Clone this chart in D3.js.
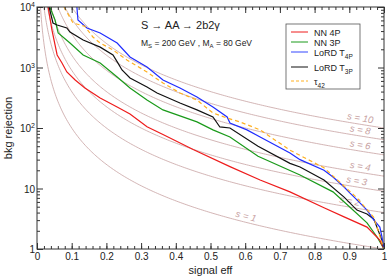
<!DOCTYPE html>
<html><head><meta charset="utf-8">
<script src="https://cdn.jsdelivr.net/npm/d3@7"></script>
<style>body{margin:0;background:#fff}svg{display:block;font-family:"Liberation Sans",Arial,sans-serif}</style>
</head><body><svg id="c" width="387" height="278"></svg>
<script>
// ---- data (signal eff, bkg rejection) ----
const nn4pEff = [0.032,0.043,0.058,0.072,0.086,0.110,0.138,0.182,0.231,0.268,0.317,0.363,0.450,0.556,0.643,0.729,0.827,0.885,0.951,0.988,1.0];
const nn4pRej = [10000,4170,1610,1190,843,621,458,313,222,170,105,78,44,23,13.8,8.8,4.8,3.4,2.3,1.4,1];
const nn3pEff = [0.037,0.052,0.061,0.095,0.133,0.182,0.231,0.268,0.317,0.363,0.461,0.507,0.556,0.637,0.758,0.853,0.902,0.951,0.980,1.0];
const nn3pRej = [10000,6100,3720,2540,1610,1190,697,458,290,199,126,93,71,34,16.7,8.8,4.9,2.7,1.58,1];
const t4pEff = [0.115,0.118,0.144,0.182,0.231,0.268,0.317,0.363,0.412,0.461,0.507,0.548,0.556,0.605,0.643,0.729,0.758,0.827,0.853,0.885,0.902,0.922,0.951,0.971,0.988,0.994,1.0];
const t4pRej = [10000,6100,4500,3720,2540,1490,1020,621,458,325,222,152,121,93,71,38.6,30,20,15.5,10.6,8.4,6.5,4.4,3.0,2.3,1.6,1];
const t3pEff = [0.035,0.046,0.058,0.086,0.095,0.133,0.182,0.219,0.233,0.245,0.268,0.317,0.346,0.412,0.461,0.507,0.527,0.556,0.637,0.729,0.758,0.827,0.885,0.922,0.951,0.971,0.994,1.0];
const t3pRej = [10000,5440,5040,4500,3860,2850,2170,1610,1190,910,670,476,379,259,199,152,104,100,50,26,22.7,13.8,7.2,4.4,3.8,3.1,1.4,1];
const tau42Eff = [0.078,0.104,0.138,0.161,0.182,0.219,0.259,0.317,0.363,0.412,0.461,0.507,0.548,0.585,0.643,0.729,0.827,0.922,0.971,1.0];
const tau42Rej = [10000,5440,4800,3190,2540,1950,1330,843,555,379,290,177,146,126,93,43,22,7.0,3.3,1];
const sLevels = [1,2,3,4,6,8,10];
const xTicks = [0,0.1,0.2,0.3,0.4,0.5,0.6,0.7,0.8,0.9,1];
const yTicks = [1,10,100,1000,10000];
const legendLabels = ["NN 4P","NN 3P","LoRD T4P","LoRD T3P","τ42"];

const svg = d3.select("#c");
const L=37,R=384,T=7,B=249;
const x = d3.scaleLinear().domain([0,1]).range([L,R]);
const y = d3.scaleLog().domain([1,10000]).range([B,T]);
const grey = "#c8a2a2";

svg.append("defs").append("clipPath").attr("id","clip").append("rect")
  .attr("x",L).attr("y",T).attr("width",R-L).attr("height",B-T);

// iso-significance guide curves: rejection = s^2 / eff^2
const gCurves = svg.append("g").attr("clip-path","url(#clip)");
const line = d3.line().x(d=>x(d[0])).y(d=>y(d[1]));
sLevels.forEach(s=>{
  const e0 = s/100;
  const pts = d3.range(0,201).map(i=>{const e=e0+(1-e0)*Math.pow(i/200,1.6);return [e,s*s/(e*e)];});
  gCurves.append("path").attr("d",line(pts)).attr("fill","none").attr("stroke",grey).attr("stroke-width",0.8);
});
// labels on guide curves
const lblPos = {10:0.93,8:0.93,6:0.93,4:0.93,3:0.92,2:0.90,1:0.60};
sLevels.forEach(s=>{
  const e=lblPos[s], r=s*s/(e*e);
  const slope = -2/(e*Math.LN10)*(60.5/347);
  const ang = Math.atan(-slope)*180/Math.PI;
  svg.append("text").attr("transform",`translate(${x(e)},${y(r)-3}) rotate(${ang})`)
    .attr("text-anchor","middle").attr("font-size",9.5).attr("font-style","italic")
    .attr("fill",grey).text(`s = ${s}`);
});

// data curves
const series = [
  {e:nn3pEff,r:nn3pRej,c:"#1a9a1a",d:null},
  {e:nn4pEff,r:nn4pRej,c:"#ee1c1c",d:null},
  {e:t3pEff,r:t3pRej,c:"#111111",d:null},
  {e:t4pEff,r:t4pRej,c:"#1f2cff",d:null},
  {e:tau42Eff,r:tau42Rej,c:"#ffb020",d:"4,3"}
];
const gData = svg.append("g").attr("clip-path","url(#clip)");
series.forEach(sr=>{
  const pts = sr.e.map((e,i)=>[e,sr.r[i]]);
  gData.append("path").attr("d",line(pts)).attr("fill","none").attr("stroke",sr.c)
    .attr("stroke-width",1.2).attr("stroke-dasharray",sr.d);
});

// frame
svg.append("rect").attr("x",L).attr("y",T).attr("width",R-L).attr("height",B-T)
  .attr("fill","none").attr("stroke","#333").attr("stroke-width",1);

// axes ticks (inward)
const xMinor = d3.range(0,1.0001,0.02);
const yMinor = [];
for(let d=1; d<10000; d*=10) for(let k=2;k<=9;k++) yMinor.push(d*k);
function styleAx(g){g.select(".domain").remove();g.selectAll("line").attr("stroke","#333");}
svg.append("g").attr("transform",`translate(0,${B})`).call(d3.axisBottom(x).tickValues(xMinor).tickSize(-3).tickFormat("")).call(styleAx);
svg.append("g").attr("transform",`translate(0,${B})`).call(d3.axisBottom(x).tickValues(xTicks).tickSize(-6).tickPadding(4)
  .tickFormat(d=>d===0?"0":d===1?"1":d3.format(".1f")(d))).call(styleAx)
  .call(g=>g.selectAll("text").attr("font-size",10).attr("fill","#222").attr("font-family","Liberation Sans,Arial,sans-serif"));
svg.append("g").attr("transform",`translate(0,${T})`).call(d3.axisTop(x).tickValues(xMinor).tickSize(-3).tickFormat("")).call(styleAx);
svg.append("g").attr("transform",`translate(0,${T})`).call(d3.axisTop(x).tickValues(xTicks).tickSize(-6).tickFormat("")).call(styleAx);
svg.append("g").attr("transform",`translate(${L},0)`).call(d3.axisLeft(y).tickValues(yMinor).tickSize(-3).tickFormat("")).call(styleAx);
svg.append("g").attr("transform",`translate(${L},0)`).call(d3.axisLeft(y).tickValues(yTicks).tickSize(-6).tickFormat("")).call(styleAx);
svg.append("g").attr("transform",`translate(${R},0)`).call(d3.axisRight(y).tickValues(yMinor).tickSize(-3).tickFormat("")).call(styleAx);
svg.append("g").attr("transform",`translate(${R},0)`).call(d3.axisRight(y).tickValues(yTicks).tickSize(-6).tickFormat("")).call(styleAx);

// y tick labels
yTicks.forEach(v=>{
  const p = Math.round(Math.log10(v));
  const t = svg.append("text").attr("x",L-2).attr("y",y(v)+4).attr("text-anchor","end").attr("font-size",10).attr("fill","#222");
  if(p<=1){t.text(String(v));}
  else {t.text("10").append("tspan").attr("dy",-4).attr("font-size",7).text(p);}
});

// axis titles
svg.append("text").attr("x",(L+R)/2).attr("y",274).attr("text-anchor","middle").attr("font-size",11).attr("fill","#222").text("signal eff");
svg.append("text").attr("transform",`translate(12,${(T+B)/2}) rotate(-90)`).attr("text-anchor","middle").attr("font-size",11).attr("fill","#222").text("bkg rejection");

// process annotation
svg.append("text").attr("x",141).attr("y",29).attr("font-size",11).attr("fill","#222").text("S → AA → 2b2γ");
const m = svg.append("text").attr("x",141).attr("y",46).attr("font-size",8.5).attr("fill","#222");
m.append("tspan").text("M");
m.append("tspan").attr("dy",2).attr("font-size",6).text("S");
m.append("tspan").attr("dy",-2).text(" = 200 GeV , M");
m.append("tspan").attr("dy",2).attr("font-size",6).text("A");
m.append("tspan").attr("dy",-2).text(" = 80 GeV");

// legend
const lg = svg.append("g");
lg.append("rect").attr("x",286).attr("y",24).attr("width",74).attr("height",65).attr("fill","#fff").attr("stroke","#555").attr("stroke-width",0.8);
const legendColors = ["#ee1c1c","#1a9a1a","#7f8cff","#111111","#ffb020"];
const legendY = [32,42,52,67,81];
legendLabels.forEach((lab,i)=>{
  lg.append("line").attr("x1",291).attr("x2",308).attr("y1",legendY[i]).attr("y2",legendY[i])
    .attr("stroke",legendColors[i]).attr("stroke-width",i===2?1.6:1).attr("stroke-dasharray",i===4?"3,2":null);
  const t = lg.append("text").attr("x",314).attr("y",legendY[i]+3.5).attr("font-size",9).attr("fill","#222");
  if(i===2||i===3){t.append("tspan").text("LoRD T");t.append("tspan").attr("dy",3).attr("font-size",6.5).text(i===2?"4P":"3P");}
  else if(i===4){t.append("tspan").text("τ");t.append("tspan").attr("dy",3).attr("font-size",6.5).text("42");}
  else t.text(lab);
});
</script></body></html>
